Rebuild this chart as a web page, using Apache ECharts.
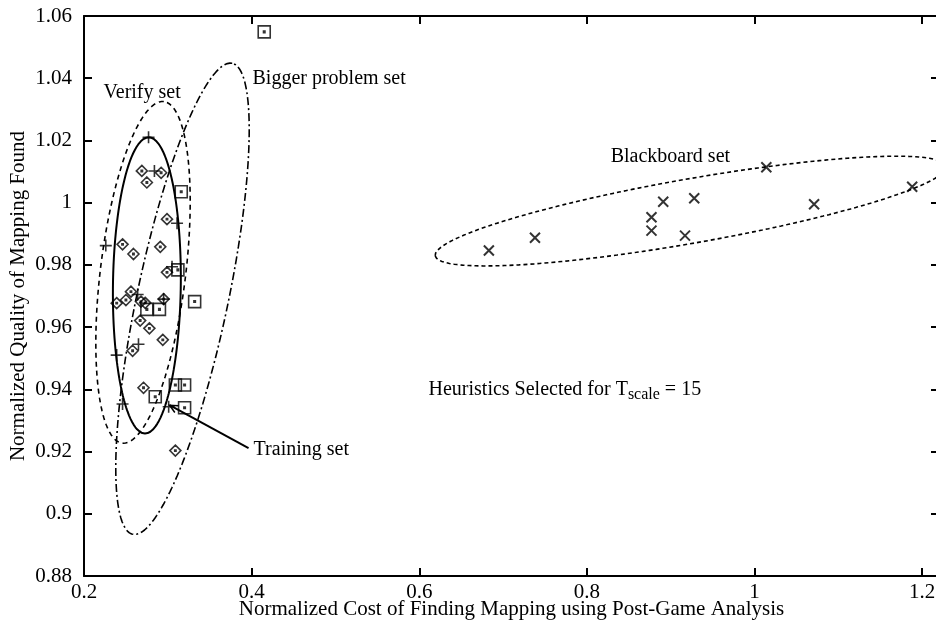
<!DOCTYPE html>
<html><head><meta charset="utf-8">
<script src="https://cdn.jsdelivr.net/npm/echarts@6/dist/echarts.min.js"></script>
<style>html,body{margin:0;padding:0;background:#fff}#c{width:936px;height:624px}</style>
</head><body><div id="c"></div>
<script>
// tick labels
const xTickLabels = ['0.2','0.4','0.6','0.8','1','1.2'];
const yTickLabels = ['0.88','0.9','0.92','0.94','0.96','0.98','1','1.02','1.04','1.06'];
const xTitle = 'Normalized Cost of Finding Mapping using Post-Game Analysis';
const yTitle = 'Normalized Quality of Mapping Found';

// Training set (+)
const trainX = [0.277,0.284,0.311,0.226,0.305,0.264,0.295,0.265,0.239,0.246,0.301];
const trainY = [1.021,1.0102,0.9934,0.9862,0.9794,0.9705,0.9690,0.9545,0.9510,0.9353,0.9344];
// Verify set (diamonds)
const verifyX = [0.269,0.292,0.275,0.299,0.246,0.259,0.291,0.299,0.256,0.250,0.239,0.268,0.273,0.295,0.267,0.278,0.294,0.258,0.271,0.309];
const verifyY = [1.0102,1.0096,1.0065,0.9947,0.9866,0.9835,0.9858,0.9776,0.9714,0.9687,0.9677,0.9682,0.9678,0.9690,0.9621,0.9596,0.9559,0.9524,0.9405,0.9203];
// Bigger problem set (squares)
const biggerX = [0.415,0.316,0.312,0.275,0.290,0.332,0.309,0.320,0.285,0.320];
const biggerY = [1.0549,1.0035,0.9784,0.9657,0.9657,0.9682,0.9414,0.9414,0.9376,0.9341];
// Blackboard set (x)
const blackX = [0.683,0.738,0.877,0.877,0.891,0.928,0.917,1.014,1.071,1.188];
const blackY = [0.9846,0.9887,0.9910,0.9953,1.0003,1.0014,0.9894,1.0114,0.9995,1.0051];

// Ellipse annotations: center, end of major axis, minor/major ratio (data units)
const ellVerifyC = [0.2704,0.9776], ellVerifyT = [0.2952,1.0325], ellVerifyR = 0.248;
const ellTrainC = [0.275,0.9734], ellTrainT = [0.2773,1.0210], ellTrainR = 0.229;
const ellBiggerC = [0.3175,0.9691], ellBiggerT = [0.3768,1.0448], ellBiggerR = 0.189;
const ellBlackC = [0.9237,0.9973], ellBlackT = [0.619,0.9829], ellBlackR = 0.124;

const X_MIN = 0.2, X_MAX = 1.22, Y_MIN = 0.88, Y_MAX = 1.06;
const G = {left: 84, top: 16, right: -3, bottom: 48};
const W = 936, H = 624;
const kx = (W - G.left - G.right) / (X_MAX - X_MIN);
const ky = (H - G.top - G.bottom) / (Y_MAX - Y_MIN);

function ellipse(c, t, r) {
  const ux = (t[0]-c[0])*kx, uy = (t[1]-c[1])*ky;
  const vx = -uy*r, vy = ux*r;
  const pts = [];
  for (let i = 0; i <= 240; i++) {
    const a = i/240*2*Math.PI;
    pts.push([c[0] + (ux*Math.cos(a) + vx*Math.sin(a))/kx, c[1] + (uy*Math.cos(a) + vy*Math.sin(a))/ky]);
  }
  return pts;
}
const zip = (a, b) => a.map((v, i) => [v, b[i]]);

const FONT = 'Liberation Serif';
const FS = 20;      // annotations
const FS_AX = 21;   // tick labels and axis titles
const dotSq = ' M4.4,4.4L5.6,4.4L5.6,5.6L4.4,5.6Z';
const plusSym = 'path://M5,0L5,10M0,5L10,5';
const crossSym = 'path://M0,0L10,10M10,0L0,10';
const diamondSym = 'path://M5,0L10,5L5,10L0,5Z' + dotSq;
const squareSym = 'path://M0,0L10,0L10,10L0,10Z' + dotSq;

const markStyle = {color: 'none', borderColor: '#000', borderWidth: 1.6};

function ellSeries(pts, type, width) {
  return {type: 'line', data: pts, showSymbol: false, symbol: 'none', silent: true,
    lineStyle: {color: '#000', width: width, type: type}, z: 1, animation: false};
}

const axisCommon = {
  axisLine: {show: true, lineStyle: {color: '#000', width: 2}},
  axisTick: {show: true, inside: true, length: 8, lineStyle: {color: '#000', width: 2}},
  splitLine: {show: false}
};

const chart = echarts.init(document.getElementById('c'), null, {renderer: 'canvas'});
chart.setOption({
  animation: false,
  backgroundColor: '#fff',
  grid: {left: G.left, top: G.top, right: G.right, bottom: G.bottom, containLabel: false, outerBoundsMode: 'none'},
  xAxis: [
    Object.assign({type: 'value', position: 'bottom', min: X_MIN, max: X_MAX, interval: 0.2,
      axisLabel: {fontFamily: FONT, fontSize: FS_AX, color: '#000', margin: 6, showMaxLabel: false,
        formatter: v => { const s = String(+v.toFixed(4)); return xTickLabels.includes(s) ? s : ''; }}
    }, axisCommon),
    Object.assign({type: 'value', position: 'top', min: X_MIN, max: X_MAX, interval: 0.2,
      axisLabel: {show: false}}, axisCommon)
  ],
  yAxis: [
    Object.assign({type: 'value', position: 'left', min: Y_MIN, max: Y_MAX, interval: 0.02,
      axisLabel: {fontFamily: FONT, fontSize: FS_AX, color: '#000', margin: 12,
        formatter: v => { const s = String(+v.toFixed(4)); return yTickLabels.includes(s) ? s : ''; }}
    }, axisCommon),
    Object.assign({type: 'value', position: 'right', min: Y_MIN, max: Y_MAX, interval: 0.02,
      axisLabel: {show: false}}, axisCommon)
  ],
  series: [
    ellSeries(ellipse(ellTrainC, ellTrainT, ellTrainR), 'solid', 2),
    ellSeries(ellipse(ellVerifyC, ellVerifyT, ellVerifyR), [5, 4], 1.6),
    ellSeries(ellipse(ellBiggerC, ellBiggerT, ellBiggerR), [8, 3, 2, 3], 1.6),
    ellSeries(ellipse(ellBlackC, ellBlackT, ellBlackR), [4, 3], 1.6),
    {type: 'scatter', name: 'Training set', data: zip(trainX, trainY), symbol: plusSym, symbolSize: 12, itemStyle: markStyle, z: 3},
    {type: 'scatter', name: 'Verify set', data: zip(verifyX, verifyY), symbol: diamondSym, symbolSize: 11, itemStyle: markStyle, z: 3},
    {type: 'scatter', name: 'Bigger problem set', data: zip(biggerX, biggerY), symbol: squareSym, symbolSize: 12, itemStyle: markStyle, z: 3},
    {type: 'scatter', name: 'Blackboard set', data: zip(blackX, blackY), symbol: crossSym, symbolSize: 10, itemStyle: Object.assign({}, markStyle, {borderWidth: 2}), z: 3}
  ]
});

// annotations placed at data coordinates
const P = (x, y) => chart.convertToPixel({gridIndex: 0}, [x, y]);
function txt(x, y, text, rich) {
  const p = P(x, y);
  return {type: 'text', x: p[0], y: p[1], z: 10, silent: true,
    style: {text: text, fontFamily: FONT, fontSize: FS, fill: '#000', textAlign: 'left', textVerticalAlign: 'middle', rich: rich}};
}
const tail = P(0.3963, 0.9211), tip = P(0.3021, 0.9349);
const dx = tail[0]-tip[0], dy = tail[1]-tip[1], L = Math.hypot(dx, dy);
const ux = dx/L, uy = dy/L, ah = 9, ang = 0.45;
const h1 = [tip[0] + ah*(ux*Math.cos(ang) - uy*Math.sin(ang)), tip[1] + ah*(uy*Math.cos(ang) + ux*Math.sin(ang))];
const h2 = [tip[0] + ah*(ux*Math.cos(-ang) - uy*Math.sin(-ang)), tip[1] + ah*(uy*Math.cos(-ang) + ux*Math.sin(-ang))];

const plotMidX = G.left + (W - G.left - G.right) / 2;
const plotMidY = G.top + (H - G.top - G.bottom) / 2;

chart.setOption({graphic: [
  {type: 'text', x: plotMidX, y: 609, z: 10, silent: true,
    style: {text: xTitle, fontFamily: FONT, fontSize: FS_AX, fill: '#000', textAlign: 'center', textVerticalAlign: 'middle'}},
  {type: 'text', x: 18, y: plotMidY, rotation: Math.PI / 2, z: 10, silent: true,
    style: {text: yTitle, fontFamily: FONT, fontSize: FS_AX, fill: '#000', textAlign: 'center', textVerticalAlign: 'middle'}},
  txt(0.2233, 1.0352, 'Verify set'),
  txt(0.401, 1.0397, 'Bigger problem set'),
  txt(0.8283, 1.0146, 'Blackboard set'),
  txt(0.4023, 0.9205, 'Training set'),
  txt(0.611, 0.9398, '{a|Heuristics Selected for T}{s|scale}{a| = 15}', {
    a: {fontFamily: FONT, fontSize: FS, fill: '#000', verticalAlign: 'middle'},
    s: {fontFamily: FONT, fontSize: 16, fill: '#000', padding: [10, 0, 0, 0]}
  }),
  {type: 'polyline', z: 10, silent: true, shape: {points: [tail, tip]}, style: {stroke: '#000', lineWidth: 2, fill: null}},
  {type: 'polyline', z: 10, silent: true, shape: {points: [h1, tip, h2]}, style: {stroke: '#000', lineWidth: 1.5, fill: null}}
]});
</script>
</body></html>
